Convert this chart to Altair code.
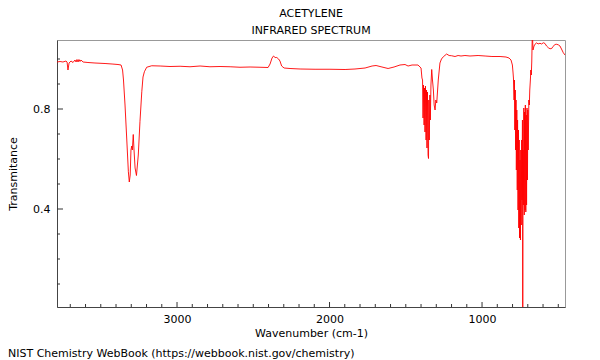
import altair as alt
import pandas as pd

# Spectrum: wavenumber (cm-1) and transmittance
wavenumber = [
    3787, 3767, 3748, 3728, 3721, 3715, 3708, 3695, 3682, 3669, 3662, 3656, 3649, 3643, 3636, 3630,
    3616, 3584, 3538, 3472, 3426, 3387, 3367, 3357, 3351, 3341, 3330, 3319, 3313, 3307, 3302, 3297,
    3293, 3287, 3282, 3275, 3266, 3254, 3243, 3231, 3223, 3214, 3199, 3166, 3111, 3046, 2980, 2915,
    2849, 2784, 2718, 2652, 2587, 2521, 2456, 2403, 2390, 2377, 2367, 2357, 2346, 2334, 2325, 2314,
    2298, 2259, 2193, 2095, 1997, 1898, 1833, 1767, 1721, 1695, 1656, 1616, 1577, 1538, 1505, 1485,
    1459, 1420, 1400, 1394,
    1390, 1387, 1384, 1380, 1377, 1374, 1371, 1367, 1364, 1361, 1358, 1354, 1351, 1349, 1346, 1342,
    1339, 1335, 1330, 1325, 1319, 1314, 1308, 1303, 1297, 1287, 1276, 1266, 1254, 1232, 1216, 1199,
    1177, 1157, 1138, 1112, 1079, 1026, 980, 935, 882, 843, 823, 810,
    801, 797, 794, 790, 788, 785, 782, 780, 777, 775, 772, 769, 767, 764, 761, 759,
    756, 754, 751, 748, 746, 743, 740, 738, 735, 733, 731, 729, 726, 723, 721, 718,
    716, 713, 710, 708, 705, 702, 700, 697, 693, 690, 687, 683, 680, 677, 674, 670,
    666, 659, 653, 641, 633, 620, 610, 598, 587, 577, 565, 554, 543, 535, 521, 510,
    498, 489, 479, 467, 456,
]
transmittance = [
    0.988, 0.990, 0.988, 0.992, 0.988, 0.956, 0.984, 0.992, 0.986, 0.996, 0.988, 0.998, 0.988, 0.998, 0.990, 0.996,
    0.988, 0.986, 0.984, 0.982, 0.980, 0.978, 0.976, 0.956, 0.916, 0.816, 0.684, 0.549, 0.508, 0.536, 0.636, 0.652,
    0.636, 0.698, 0.636, 0.564, 0.534, 0.616, 0.749, 0.869, 0.928, 0.949, 0.967, 0.973, 0.972, 0.970, 0.971, 0.969,
    0.972, 0.969, 0.970, 0.969, 0.967, 0.968, 0.967, 0.966, 0.980, 1.004, 1.012, 1.006, 1.006, 1.000, 0.992, 0.972,
    0.964, 0.962, 0.960, 0.959, 0.959, 0.958, 0.960, 0.964, 0.972, 0.974, 0.968, 0.962, 0.968, 0.976, 0.978, 0.972,
    0.976, 0.976, 0.964, 0.924,
    0.916, 0.764, 0.896, 0.736, 0.884, 0.708, 0.892, 0.676, 0.876, 0.644, 0.868, 0.616, 0.602, 0.836, 0.676, 0.856,
    0.756, 0.896, 0.958, 0.916, 0.876, 0.816, 0.796, 0.836, 0.824, 0.916, 0.984, 1.000, 1.009, 1.020, 1.014, 1.013,
    1.010, 1.014, 1.012, 1.014, 1.012, 1.014, 1.012, 1.010, 1.010, 1.008, 1.004, 0.996,
    0.976, 0.948, 0.924, 0.836, 0.916, 0.716, 0.876, 0.636, 0.836, 0.556, 0.796, 0.476, 0.756, 0.396, 0.716, 0.324,
    0.676, 0.284, 0.596, 0.276, 0.636, 0.336, 0.676, 0.436, 0.756, 0.000, 0.636, 0.416, 0.804, 0.376, 0.788, 0.396,
    0.816, 0.388, 0.776, 0.416, 0.804, 0.516, 0.796, 0.636, 0.836, 0.816, 0.876, 0.916, 0.956, 0.936, 0.988, 1.116,
    1.036, 1.052, 1.059, 1.065, 1.060, 1.063, 1.060, 1.065, 1.062, 1.052, 1.045, 1.041, 1.042, 1.050, 1.058, 1.059,
    1.056, 1.052, 1.040, 1.025, 1.016,
]

x_major = [3000, 2000, 1000]
x_minor = [3700, 3600, 3500, 3400, 3300, 3200, 3100, 2900, 2800, 2700, 2600, 2500, 2400, 2300,
           2200, 2100, 1900, 1800, 1700, 1600, 1500, 1400, 1300, 1200, 1100, 900, 800, 700, 600, 500]
y_major = [0.4, 0.8]
y_minor = [0.1, 0.2, 0.3, 0.5, 0.6, 0.7, 0.9, 1.0]

X_DOMAIN = [3787, 456]
Y_DOMAIN = [0.008, 1.076]
W, H = 508, 267
FONT = "DejaVu Sans"

spec = pd.DataFrame({"wn": wavenumber, "t": transmittance})

xs = alt.Scale(domain=X_DOMAIN, nice=False, zero=False)
ys = alt.Scale(domain=Y_DOMAIN, nice=False, zero=False)

x_axis = alt.Axis(values=x_major, format="d", title="Wavenumber (cm-1)", grid=False,
                  ticks=False, tickSize=0, labelPadding=6, titlePadding=3,
                  domainColor="#444", labelFont=FONT, titleFont=FONT,
                  labelFontSize=11, titleFontSize=11, titleFontWeight="normal",
                  labelColor="black", titleColor="black")
y_axis = alt.Axis(values=y_major, format=".1f", title="Transmitance", grid=False,
                  ticks=False, tickSize=0, labelPadding=7, titlePadding=14,
                  domainColor="#444", labelFont=FONT, titleFont=FONT,
                  labelFontSize=11, titleFontSize=11, titleFontWeight="normal",
                  labelColor="black", titleColor="black")

line = alt.Chart(spec).mark_line(color="#ff0000", strokeWidth=0.9, clip=True).encode(
    x=alt.X("wn:Q", scale=xs, axis=x_axis),
    y=alt.Y("t:Q", scale=ys, axis=y_axis),
)

def xticks(vals, length):
    return alt.Chart(pd.DataFrame({"wn": vals})).mark_rule(color="#333", strokeWidth=1).encode(
        x=alt.X("wn:Q", scale=xs, axis=x_axis),
        y=alt.value(H), y2=alt.value(H - length))

def yticks(vals, length):
    return alt.Chart(pd.DataFrame({"t": vals})).mark_rule(color="#333", strokeWidth=1).encode(
        y=alt.Y("t:Q", scale=ys, axis=y_axis),
        x=alt.value(0), x2=alt.value(length))

footer = alt.Chart(pd.DataFrame({"s": ["NIST Chemistry WebBook (https://webbook.nist.gov/chemistry)"]})).mark_text(
    align="left", baseline="alphabetic", font=FONT, fontSize=11, color="black").encode(
    text="s:N", x=alt.value(-49), y=alt.value(H + 50))

chart = alt.layer(
    line, xticks(x_major, 5), xticks(x_minor, 3), yticks(y_major, 6), yticks(y_minor, 3), footer
).properties(
    width=W, height=H,
    title=alt.Title(["ACETYLENE", "INFRARED SPECTRUM"], font=FONT, fontSize=11, fontWeight="normal",
                    anchor="middle", offset=4, lineHeight=17, color="black"),
    autosize=alt.AutoSizeParams(type="none"),
    padding={"left": 49, "top": 32, "right": 27, "bottom": 54},
).configure_view(stroke="#999", strokeWidth=1)

chart.save("out.html", embed_options={"renderer": "svg", "actions": False})
